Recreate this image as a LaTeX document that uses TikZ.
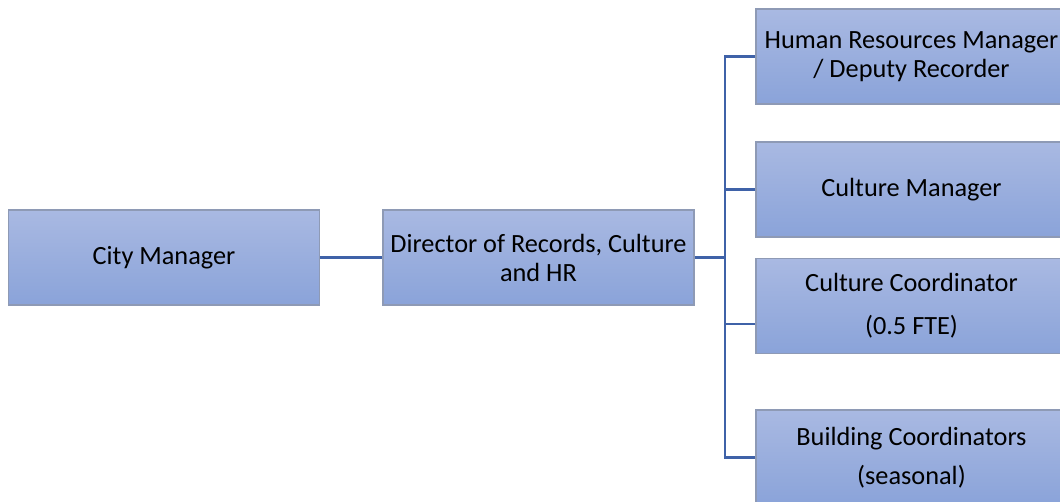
\documentclass[tikz,border=0pt]{standalone}
\usepackage{fontspec}
\setmainfont{Carlito}
\definecolor{boxtop}{HTML}{A9B9E2}
\definecolor{boxbot}{HTML}{8AA3D9}
\definecolor{boxline}{HTML}{8E9AB5}
\definecolor{conn}{HTML}{3F62A8}
\tikzset{
  orgbox/.style={draw=boxline, line width=1.3pt, top color=boxtop, bottom color=boxbot,
    minimum width=311pt, minimum height=95pt, inner sep=0pt, align=center,
    font=\fontsize{26.3}{29}\selectfont, text=black},
  link/.style={draw=conn, line width=2.6pt}
}
\begin{document}
\begin{tikzpicture}[x=1pt,y=-1pt]
\useasboundingbox (0,0) rectangle (1060,501);
\clip (0,0) rectangle (1060,501);
\node[orgbox] (city) at (164,257.5) {City Manager};
\node[orgbox] (dir) at (538.5,257.5) {Director of Records, Culture\\and HR};
\node[orgbox] (hr) at (911.5,56.5) {Human Resources Manager\\/ Deputy Recorder};
\node[orgbox] (cm) at (911.5,189.5) {Culture Manager};
\node[orgbox] (cc) at (911.5,306) {Culture Coordinator\\[14pt](0.5 FTE)};
\node[orgbox] (bc) at (911.5,457.5) {Building Coordinators\\[10pt](seasonal)};
\coordinate (bus) at (725,257.5);
\coordinate (ccin) at ([yshift=-18pt]cc.west);
\draw[link] (city.east) -- (dir.west);
\draw[link] (dir.east) -- (bus);
\draw[link] (hr.west) -| (bus) |- (bc.west);
\draw[link] (cm.west) -- (cm.west -| bus);
\draw[link] (ccin) -- (ccin -| bus);
\end{tikzpicture}
\end{document}
